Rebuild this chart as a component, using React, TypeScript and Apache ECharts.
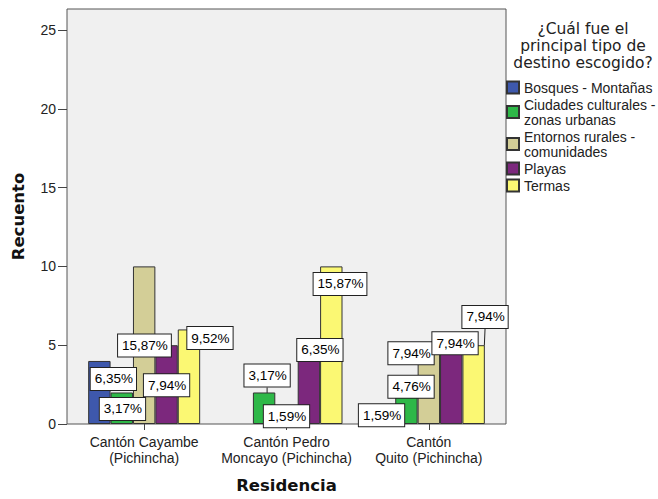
import React, { useEffect, useRef } from "react";
import * as echarts from "echarts";

// ---- data ----
const categories = [
  "Cantón Cayambe\n(Pichincha)",
  "Cantón Pedro\nMoncayo (Pichincha)",
  "Cantón\nQuito (Pichincha)",
];
const seriesNames = [
  "Bosques - Montañas",
  "Ciudades culturales -\nzonas urbanas",
  "Entornos rurales -\ncomunidades",
  "Playas",
  "Termas",
];
const bosques = [4, 0, 1];
const ciudades = [2, 2, 3];
const entornos = [10, 1, 5];
const playas = [5, 4, 5];
const termas = [6, 10, 5];
const yTicks = [0, 5, 10, 15, 20, 25];
const legendTitle = "¿Cuál fue el\nprincipal tipo de\ndestino escogido?";
const xTitle = "Residencia";
const yTitle = "Recuento";

// ---- styles / layout ----
const colors = ["#3E58AC", "#2EB848", "#D3CE97", "#7C287D", "#FBF873"];
// label displacement (px) per series / category, to mimic the reference placement
const labelShift: number[][][] = [
  [[14, 29], [0, 0], [-2.5, 18]],
  [[0.7, 27.5], [3, -6], [4.6, 21]],
  [[0.3, 90], [0, 19], [-17.8, 19]],
  [[0, 51], [11, 0], [3.8, 9]],
  [[21, 19.6], [8.7, 28.6], [11.4, -17.2]],
];
const guideLines: string[] = ["1-1", "4-2"];

const SANS = "'Liberation Sans', Arial, sans-serif";
const DEJAVU = "'DejaVu Sans', sans-serif";

export default function App() {
  const ref = useRef<HTMLDivElement>(null);
  useEffect(() => {
    document.body.style.margin = "0";
    if (!ref.current) return;
    const chart = echarts.init(ref.current, undefined, { renderer: "svg" });
    const all = [bosques, ciudades, entornos, playas, termas];
    const total = all.reduce((s, arr) => s + arr.reduce((a, b) => a + b, 0), 0);

    const series = all.map((vals, si) => ({
      type: "bar",
      name: seriesNames[si],
      barWidth: 22.4,
      barGap: "0%",
      z: 2,
      itemStyle: { color: colors[si], borderColor: "#333", borderWidth: 1 },
      label: {
        show: true,
        position: "top",
        distance: 0,
        fontFamily: SANS,
        fontSize: 13.5,
        lineHeight: 14,
        color: "#000",
        backgroundColor: "#fff",
        borderColor: "#222",
        borderWidth: 1,
        padding: [4, 3, 4, 4],
        formatter: (p: any) =>
          ((p.value / total) * 100).toFixed(2).replace(".", ",") + "%",
      },
      labelLine: { show: false, lineStyle: { color: "#222", width: 1 } },
      data: vals.map((v, ci) => {
        const item: any = { value: v };
        if (v === 0) {
          item.label = { show: false };
          item.itemStyle = { borderWidth: 0, opacity: 0 };
        }
        if (guideLines.includes(si + "-" + ci)) {
          item.labelLine = { show: true, lineStyle: { color: "#222", width: 1 } };
        }
        return item;
      }),
    }));

    chart.setOption({
      animation: false,
      backgroundColor: "#fff",
      graphic: [
        {
          type: "rect",
          z: -1,
          shape: { x: 67, y: 9, width: 439, height: 415 },
          style: { fill: "#F0F0F0", stroke: "#555", lineWidth: 1 },
          silent: true,
        },
        {
          type: "text",
          x: 583,
          y: 20,
          style: {
            text: legendTitle,
            textAlign: "center",
            textVerticalAlign: "top",
            font: `15.5px ${DEJAVU}`,
            lineHeight: 17,
            fill: "#222",
          },
        },
      ],
      legend: {
        orient: "vertical",
        left: 506,
        top: 80,
        padding: 0,
        itemGap: 2,
        itemWidth: 12,
        itemHeight: 12,
        icon: "rect",
        textStyle: { fontFamily: SANS, fontSize: 14, lineHeight: 15, color: "#222" },
        data: seriesNames,
      },
      grid: { left: 73, right: 158, top: 9, bottom: 75 },
      labelLayout: (params: any) => {
        const s = labelShift[params.seriesIndex]?.[params.dataIndex];
        if (!s) return {};
        return { dx: s[0], dy: s[1] };
      },
      xAxis: {
        type: "category",
        data: categories,
        axisLine: { show: false },
        axisTick: { show: true, alignWithLabel: true, length: 6, lineStyle: { color: "#444" } },
        axisLabel: { interval: 0, fontFamily: SANS, fontSize: 14, lineHeight: 16, margin: 10, color: "#222" },
        name: xTitle,
        nameLocation: "middle",
        nameGap: 53,
        nameTextStyle: { fontFamily: DEJAVU, fontWeight: "bold", fontSize: 16.5, color: "#111" },
      },
      yAxis: {
        type: "value",
        min: 0,
        max: 26.33,
        interval: 5,
        offset: 6,
        axisLine: { show: false },
        axisTick: { show: true, length: 9, customValues: yTicks, lineStyle: { color: "#444" } },
        axisLabel: { customValues: yTicks, margin: 11, fontFamily: SANS, fontSize: 14, color: "#222" },
        splitLine: { show: false },
        name: yTitle,
        nameLocation: "middle",
        nameGap: 40,
        nameTextStyle: { fontFamily: DEJAVU, fontWeight: "bold", fontSize: 16.5, color: "#111" },
      },
      series,
    });
    return () => chart.dispose();
  }, []);
  return <div ref={ref} style={{ width: 658, height: 499 }} />;
}
